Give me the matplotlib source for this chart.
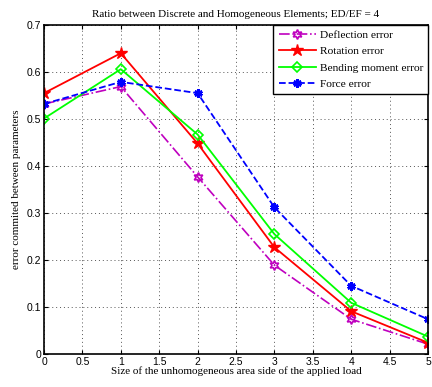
import matplotlib
matplotlib.use("Agg")
import matplotlib.pyplot as plt
import numpy as np

size = [0, 1, 2, 3, 4, 5]
deflection = [0.532, 0.569, 0.377, 0.189, 0.074, 0.021]
rotation = [0.555, 0.640, 0.448, 0.227, 0.091, 0.024]
bending = [0.501, 0.606, 0.467, 0.255, 0.109, 0.037]
force = [0.532, 0.579, 0.555, 0.312, 0.145, 0.074]

xticks = np.arange(0, 5.01, 0.5)
yticks = np.arange(0, 0.71, 0.1)
xtick_labels = ['0', '0.5', '1', '1.5', '2', '2.5', '3', '3.5', '4', '4.5', '5']
ytick_labels = ['0', '0.1', '0.2', '0.3', '0.4', '0.5', '0.6', '0.7']

serif = 'Liberation Serif'
sans = 'Liberation Sans'

fig = plt.figure(figsize=(4.32, 3.87), dpi=100)
ax = fig.add_axes([44 / 432, 1 - 354 / 387, (428 - 44) / 432, (354 - 25) / 387])

ax.plot(size, deflection, '-.', color='m', lw=1.2, marker=(6, 1, 0), ms=7,
        mfc='none', mec='m', mew=1.2, label='Deflection error')
ax.plot(size, rotation, '-', color='r', lw=1.3, marker='*', ms=9,
        mfc='r', mec='r', label='Rotation error')
ax.plot(size, bending, '-', color='#00ff00', lw=1.3, marker='D', ms=5,
        mfc='none', mec='#00ff00', mew=1.2, label='Bending moment error')
ax.plot(size, force, '--', color='b', lw=1.3, marker=(6, 2, 0), ms=6,
        mec='b', mew=2, label='Force error')

ax.set_xlim(0, 5)
ax.set_ylim(0, 0.7)
ax.set_xticks(xticks)
ax.set_xticklabels(xtick_labels, fontfamily=sans, fontsize=7.5)
ax.set_yticks(yticks)
ax.set_yticklabels(ytick_labels, fontfamily=sans, fontsize=7.5)
ax.tick_params(direction='in', length=3, width=0.8, top=True, right=True, pad=2)
ax.grid(True, linestyle=(0, (1, 3)), color='#555555', lw=0.7)
for s in ax.spines.values():
    s.set_linewidth(1.2)

ax.set_title('Ratio between Discrete and Homogeneous Elements; ED/EF = 4',
             fontfamily=serif, fontsize=8, pad=6)
ax.set_xlabel('Size of the unhomogeneous area side of the applied load',
              fontfamily=serif, fontsize=8, labelpad=0)
ax.set_ylabel('error commited between parameters', fontfamily=serif, fontsize=8, labelpad=4)

leg = ax.legend(loc='upper right', prop={'family': serif, 'size': 8.2},
                fancybox=False, edgecolor='k', framealpha=1, borderaxespad=0,
                handlelength=3.3, labelspacing=0.55, borderpad=0.45, handletextpad=0.3)
leg.get_frame().set_linewidth(1.0)

fig.savefig('out.png', dpi=100)
